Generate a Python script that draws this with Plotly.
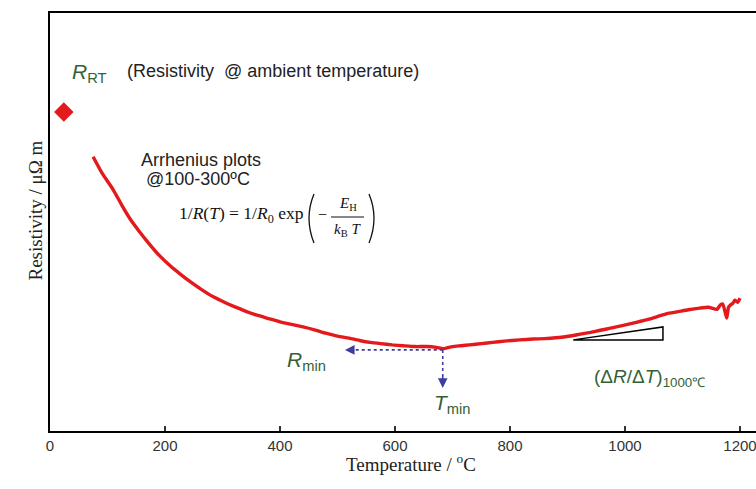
import plotly.graph_objects as go

# Data (y in arbitrary resistivity units 0-100)
temp = [75, 90, 110, 125, 140, 155, 170, 190, 210, 226, 245, 265, 284, 305, 325, 343, 360, 380, 400,
        420, 440, 460, 480, 500, 520, 540, 557, 575, 595, 614, 635, 655, 672, 684, 700, 715, 730,
        750, 770, 790, 817, 840, 860, 880, 899, 920, 940, 957, 975, 995, 1014, 1035, 1055, 1073,
        1090, 1110, 1130, 1145, 1160, 1166, 1170, 1174, 1177, 1180, 1183, 1188, 1191, 1196, 1200]
resist = [65.6, 61.8, 57.7, 54.0, 50.6, 47.8, 45.2, 42.0, 39.4, 37.6, 35.6, 33.7, 32.1, 30.7, 29.5,
          28.5, 27.7, 26.9, 26.1, 25.5, 24.9, 24.2, 23.4, 22.7, 22.2, 21.6, 21.2, 20.9, 20.6, 20.4,
          20.2, 20.2, 20.0, 19.7, 20.2, 20.4, 20.6, 20.9, 21.2, 21.5, 21.8, 22.0, 22.1, 22.3, 22.6,
          23.1, 23.6, 24.1, 24.6, 25.2, 25.8, 26.5, 27.3, 28.1, 28.5, 29.0, 29.4, 29.6, 29.1, 30.2,
          30.4, 28.5, 27.0, 29.6, 30.1, 30.6, 31.3, 30.8, 31.8]

rt_temp = [24]
rt_resist = [76.3]

# annotation anchors
t_min = 683
r_min = 19.4
rmin_arrow_end = 513
tmin_arrow_end = 10.3
tri_t = [910, 1066, 1066, 910]
tri_r = [21.8, 24.9, 21.8, 21.8]

x_ticks = [0, 200, 400, 600, 800, 1000, 1200]

RED = "#e3191c"
GREEN = "#355f35"
BLUE = "#3d3d9e"

fig = go.Figure()
fig.add_trace(go.Scatter(x=temp, y=resist, mode="lines",
                         line=dict(color=RED, width=3.4, shape="spline", smoothing=0.5),
                         hoverinfo="skip"))
fig.add_trace(go.Scatter(x=rt_temp, y=rt_resist, mode="markers",
                         marker=dict(symbol="diamond", color=RED, size=15), hoverinfo="skip"))
fig.add_trace(go.Scatter(x=tri_t, y=tri_r, mode="lines",
                         line=dict(color="black", width=1.5), hoverinfo="skip"))

# dashed guide lines
fig.add_shape(type="line", x0=t_min, y0=r_min, x1=rmin_arrow_end + 8, y1=r_min,
              line=dict(color=BLUE, width=1.6, dash="dot"))
fig.add_shape(type="line", x0=t_min, y0=r_min, x1=t_min, y1=tmin_arrow_end + 1.5,
              line=dict(color=BLUE, width=1.6, dash="dot"))
# arrowheads
fig.add_annotation(x=rmin_arrow_end, y=r_min, ax=rmin_arrow_end + 15, ay=r_min,
                   axref="x", ayref="y", xref="x", yref="y", text="", showarrow=True,
                   arrowhead=2, arrowsize=1.2, arrowwidth=1.6, arrowcolor=BLUE)
fig.add_annotation(x=t_min, y=tmin_arrow_end, ax=t_min, ay=tmin_arrow_end + 3,
                   axref="x", ayref="y", xref="x", yref="y", text="", showarrow=True,
                   arrowhead=2, arrowsize=1.2, arrowwidth=1.6, arrowcolor=BLUE)


def dx(xp):
    return (xp - 50) / 0.575


def dy(yp):
    return (431 - yp) / 418 * 100


def px(xp, yp):
    return dict(x=dx(xp), y=dy(yp), xref="x", yref="y", showarrow=False)


def pp(xp, yp):
    return dict(x=(xp - 50) / 706, y=(431 - yp) / 418, xref="paper", yref="paper", showarrow=False)


SANS = "Liberation Sans, Arial, sans-serif"
SERIF = "Liberation Serif, Times New Roman, serif"

fig.add_annotation(**px(89, 73), text="<i>R</i><sub>RT</sub>",
                   font=dict(family=SANS, size=21, color=GREEN))
fig.add_annotation(**px(125, 71), text="(Resistivity  @ ambient temperature)", xanchor="left",
                   font=dict(family=SANS, size=18, color="#222"))
fig.add_annotation(**px(139, 160), text="Arrhenius plots", xanchor="left",
                   font=dict(family=SANS, size=18, color="#222"))
fig.add_annotation(**px(144, 179), text="@100-300ºC", xanchor="left",
                   font=dict(family=SANS, size=18, color="#222"))
# formula
fig.add_annotation(**px(177, 214), text="1/<i>R</i>(<i>T</i>) = 1/<i>R</i><sub>0</sub> exp", xanchor="left",
                   font=dict(family=SERIF, size=17.5, color="#111"))
fig.add_annotation(**px(322, 214), text="−", font=dict(family=SERIF, size=16, color="#111"))
fig.add_annotation(**px(348, 204), text="<i>E</i><sub>H</sub>", font=dict(family=SERIF, size=15, color="#111"))
fig.add_annotation(**px(347, 230), text="<i>k</i><sub>B</sub> <i>T</i>", font=dict(family=SERIF, size=15, color="#111"))
fig.add_shape(type="line", x0=dx(331), x1=dx(364), y0=dy(217), y1=dy(217),
              line=dict(color="#111", width=1))
# big parentheses drawn as thin curves
fig.add_shape(type="path",
              path=f"M {dx(314)} {dy(194)} Q {dx(304)} {dy(218)} {dx(314)} {dy(243)}",
              line=dict(color="#111", width=1.3))
fig.add_shape(type="path",
              path=f"M {dx(369)} {dy(194)} Q {dx(379)} {dy(218)} {dx(369)} {dy(243)}",
              line=dict(color="#111", width=1.3))

fig.add_annotation(**px(306, 361), text="<i>R</i><sub>min</sub>",
                   font=dict(family=SANS, size=21, color=GREEN))
fig.add_annotation(**px(452, 404), text="<i>T</i><sub>min</sub>",
                   font=dict(family=SANS, size=21, color=GREEN))
fig.add_annotation(**px(649, 378), text="(Δ<i>R</i>/Δ<i>T</i>)<sub>1000℃</sub>",
                   font=dict(family=SANS, size=19, color=GREEN))

# axis titles (positioned in paper coordinates)
fig.add_annotation(**pp(411, 477), text="Temperature / <sup>o</sup>C",
                   font=dict(family=SERIF, size=19, color="#222"))
fig.add_annotation(**pp(22, 211), text="Resistivity / μΩ m", textangle=-90,
                   font=dict(family=SERIF, size=19, color="#222"))

fig.update_layout(
    width=756, height=489,
    margin=dict(l=50, r=0, t=13, b=58),
    paper_bgcolor="white", plot_bgcolor="white",
    showlegend=False,
    xaxis=dict(range=[0, 706 / 0.575], tickvals=x_ticks, ticktext=[str(v) for v in x_ticks],
               showline=True, linecolor="black", linewidth=2, mirror=True,
               ticks="inside", ticklen=5, tickwidth=1.5, tickcolor="#333",
               showgrid=False, zeroline=False, ticklabeloverflow="allow",
               tickfont=dict(family=SANS, size=15, color="#333")),
    yaxis=dict(range=[0, 100], showline=True, linecolor="black", linewidth=2,
               showticklabels=False, ticks="", showgrid=False, zeroline=False),
)

fig.write_html("out.html")
